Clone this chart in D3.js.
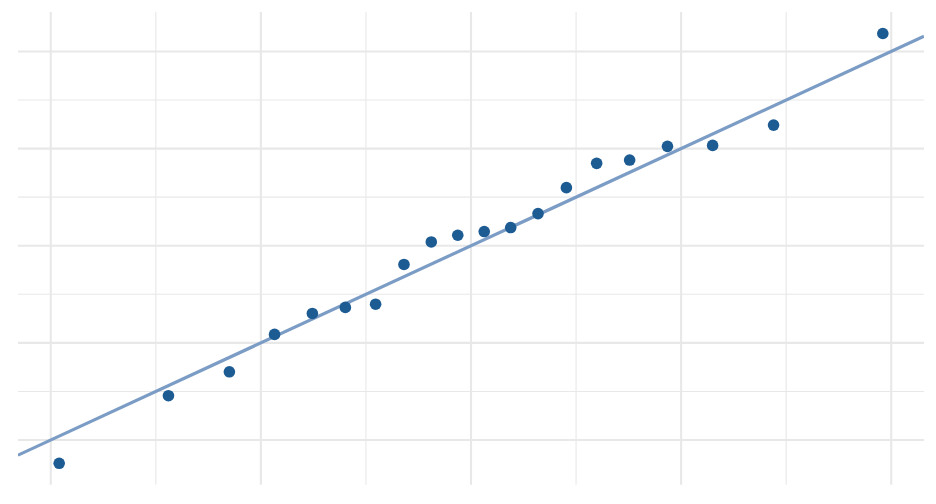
<!DOCTYPE html>
<html>
<head>
<meta charset="utf-8">
<script src="https://cdn.jsdelivr.net/npm/d3@7"></script>
<style>
  html, body { margin: 0; padding: 0; background: #ffffff; }
  svg { display: block; }
</style>
</head>
<body>
<div id="chart"></div>
<script>
// Theoretical normal quantiles (x) and sample quantiles (y)
const theoretical = [-1.96, -1.44, -1.15, -0.935, -0.755, -0.598, -0.454, -0.319, -0.189, -0.063,
                      0.063, 0.189, 0.319, 0.454, 0.598, 0.755, 0.935, 1.15, 1.44, 1.96];
const sample = [-0.240, 0.456, 0.702, 1.087, 1.303, 1.365, 1.398, 1.807, 2.039, 2.108,
                 2.146, 2.187, 2.331, 2.598, 2.848, 2.882, 3.023, 3.033, 3.242, 4.185];
// Reference line (qq line)
const lineIntercept = 2.0;
const lineSlope = 1.0;
// Gridline positions
const xMajorTicks = [-2, -1, 0, 1, 2];
const xMinorTicks = [-1.5, -0.5, 0.5, 1.5];
const yMajorTicks = [0, 1, 2, 3, 4];
const yMinorTicks = [0.5, 1.5, 2.5, 3.5];

const W = 936, H = 504;
const margin = { top: 12, right: 12, bottom: 19.2, left: 18 };

const svg = d3.select("#chart").append("svg").attr("width", W).attr("height", H);

const xExt = d3.extent(theoretical), yExt = d3.extent(sample);
const xPad = (xExt[1] - xExt[0]) * 0.05, yPad = (yExt[1] - yExt[0]) * 0.05;
const x = d3.scaleLinear().domain([xExt[0] - xPad, xExt[1] + xPad]).range([margin.left, W - margin.right]);
const y = d3.scaleLinear().domain([yExt[0] - yPad, yExt[1] + yPad]).range([H - margin.bottom, margin.top]);

const grid = svg.append("g");
const gridColor = "#e8e8e8";

grid.selectAll(".xminor").data(xMinorTicks).join("line")
  .attr("x1", d => x(d)).attr("x2", d => x(d))
  .attr("y1", y.range()[1]).attr("y2", y.range()[0])
  .attr("stroke", gridColor).attr("stroke-width", 1.1);
grid.selectAll(".yminor").data(yMinorTicks).join("line")
  .attr("y1", d => y(d)).attr("y2", d => y(d))
  .attr("x1", x.range()[0]).attr("x2", x.range()[1])
  .attr("stroke", gridColor).attr("stroke-width", 1.1);
grid.selectAll(".xmajor").data(xMajorTicks).join("line")
  .attr("x1", d => x(d)).attr("x2", d => x(d))
  .attr("y1", y.range()[1]).attr("y2", y.range()[0])
  .attr("stroke", gridColor).attr("stroke-width", 2.1);
grid.selectAll(".ymajor").data(yMajorTicks).join("line")
  .attr("y1", d => y(d)).attr("y2", d => y(d))
  .attr("x1", x.range()[0]).attr("x2", x.range()[1])
  .attr("stroke", gridColor).attr("stroke-width", 2.1);

svg.append("clipPath").attr("id", "panel").append("rect")
  .attr("x", x.range()[0]).attr("y", y.range()[1])
  .attr("width", x.range()[1] - x.range()[0]).attr("height", y.range()[0] - y.range()[1]);

const xd = x.domain();
svg.append("line")
  .attr("clip-path", "url(#panel)")
  .attr("x1", x(xd[0])).attr("y1", y(lineIntercept + lineSlope * xd[0]))
  .attr("x2", x(xd[1])).attr("y2", y(lineIntercept + lineSlope * xd[1]))
  .attr("stroke", "#7b9cc5").attr("stroke-width", 3.2);

svg.append("g").selectAll("circle").data(theoretical.map((t, i) => [t, sample[i]])).join("circle")
  .attr("cx", d => x(d[0])).attr("cy", d => y(d[1]))
  .attr("r", 5.8).attr("fill", "#1d5b93");
</script>
</body>
</html>
